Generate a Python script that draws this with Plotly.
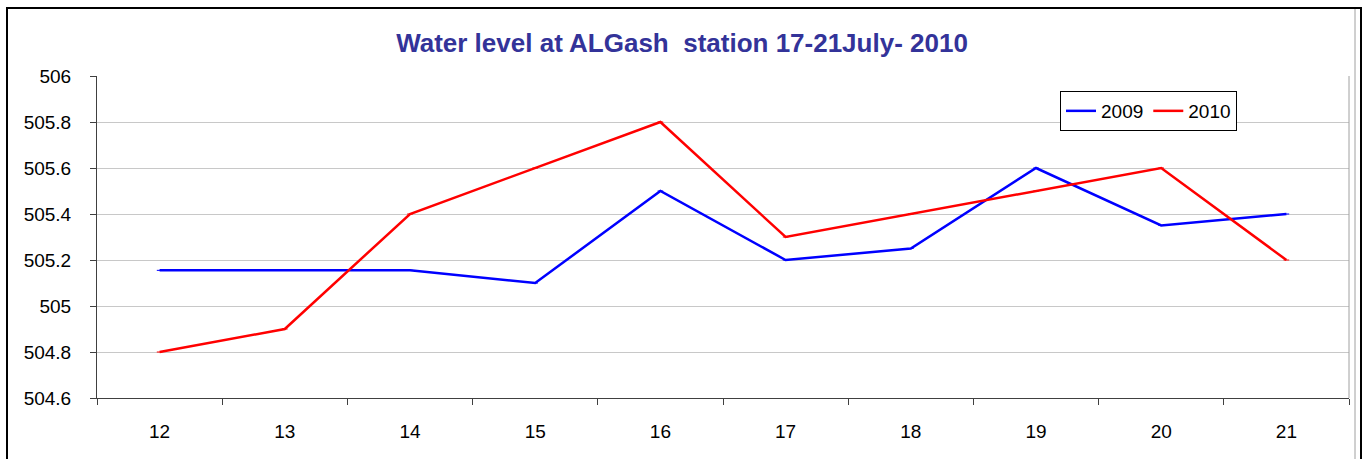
import plotly.graph_objects as go

days = ["12", "13", "14", "15", "16", "17", "18", "19", "20", "21"]
level_2009 = [505.155, 505.155, 505.155, 505.1, 505.5, 505.2, 505.25, 505.6, 505.35, 505.4]
level_2010 = [504.8, 504.9, 505.4, 505.6, 505.8, 505.3, 505.4, 505.5, 505.6, 505.2]
y_ticks = [504.6, 504.8, 505, 505.2, 505.4, 505.6, 505.8, 506]

W, H = 1364, 459
L, R, T, B = 97, 15, 76, 61

fig = go.Figure()
fig.add_trace(go.Scatter(x=days, y=level_2009, name="2009", mode="lines+markers",
                         line=dict(color="#0000FF", width=2.5),
                         marker=dict(symbol="line-ew-open", size=4, color="#0000FF")))
fig.add_trace(go.Scatter(x=days, y=level_2010, name="2010", mode="lines+markers",
                         line=dict(color="#FF0000", width=2.5),
                         marker=dict(symbol="line-ew-open", size=4, color="#FF0000")))

pw = W - L - R
ph = H - T - B
def px(x):
    return (x - L) / pw
def py(y):
    return (H - B - y) / ph

fig.update_layout(
    width=W, height=H,
    margin=dict(l=L, r=R, t=T, b=B),
    paper_bgcolor="white", plot_bgcolor="white",
    font=dict(family="Liberation Sans, Arial, sans-serif", size=19, color="black"),
    title=dict(text="<b>Water level at ALGash  station 17-21July- 2010</b>",
               x=0.5, xref="container", xanchor="center", y=1 - 43 / H, yanchor="middle",
               font=dict(size=26, color="#333399")),
    showlegend=True,
    legend=dict(orientation="h", x=px(1060), y=py(91), xanchor="left", yanchor="top",
                bordercolor="black", borderwidth=1, bgcolor="white",
                font=dict(size=19), itemwidth=30, tracegroupgap=0),
    xaxis=dict(type="category", categoryorder="array", categoryarray=days,
               showgrid=False, showline=True, linecolor="#404040", linewidth=1,
               ticks="outside", tickson="boundaries", ticklen=6, tickcolor="#404040",
               ticklabelstandoff=16, range=[-0.5, 9.5], zeroline=False),
    yaxis=dict(range=[504.6, 506], tickvals=y_ticks, ticktext=[f"{v:g}" for v in y_ticks],
               showgrid=True, gridcolor="#C8C8C8", gridwidth=1,
               showline=True, linecolor="#404040", linewidth=1,
               ticks="outside", ticklen=6, tickcolor="#404040",
               ticklabelstandoff=15, zeroline=False),
    shapes=[
        # outer chart border
        dict(type="rect", xref="paper", yref="paper",
             x0=px(7), x1=px(1361), y0=py(462), y1=py(8),
             line=dict(color="black", width=2), fillcolor="rgba(0,0,0,0)", layer="below"),
        dict(type="line", xref="paper", yref="paper", x0=px(1355), x1=px(1355), y0=py(462), y1=py(9),
             line=dict(color="#A0A0A0", width=1)),
        # plot area right border
        dict(type="line", xref="paper", yref="paper", x0=1, x1=1, y0=0, y1=1,
             line=dict(color="#A0A0A0", width=1)),
    ],
)

fig.write_html("out.html", config={"displayModeBar": False},
               post_script="document.body.style.margin='0';")
